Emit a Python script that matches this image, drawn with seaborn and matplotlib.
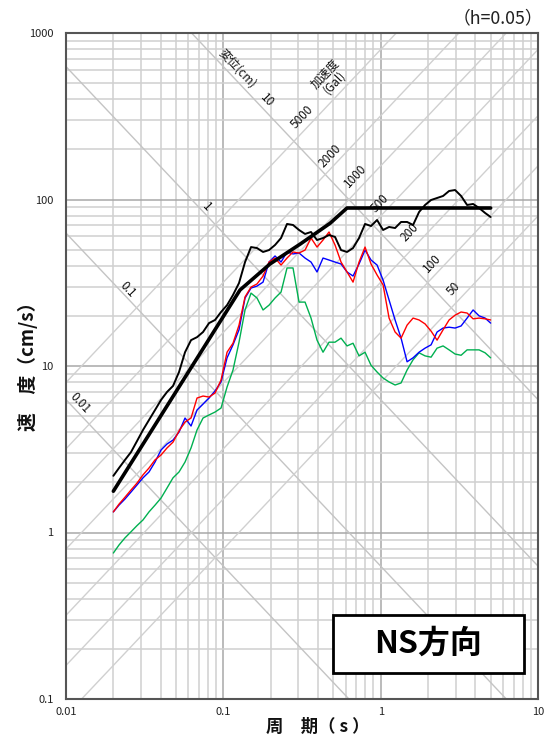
import numpy as np
import pandas as pd
import matplotlib
matplotlib.use("Agg")
import matplotlib.pyplot as plt
import seaborn as sns
from matplotlib.ticker import FixedLocator, FixedFormatter, NullFormatter, LogLocator
from matplotlib.patches import Rectangle

# ---------------- data ----------------
periods = [0.020, 0.02172, 0.02372, 0.02589, 0.02827, 0.03087, 0.03370, 0.03680, 0.04018, 0.04386,
           0.04789, 0.05229, 0.05709, 0.06233, 0.06805, 0.07430, 0.08112, 0.08857, 0.09669, 0.1056,
           0.1152, 0.1258, 0.1374, 0.1500, 0.1637, 0.1788, 0.1952, 0.2131, 0.2327, 0.2540,
           0.2773, 0.3028, 0.3306, 0.3609, 0.3940, 0.4302, 0.4697, 0.5128, 0.5599, 0.6113,
           0.6674, 0.7287, 0.7956, 0.8686, 0.9487, 1.036, 1.131, 1.235, 1.348, 1.472,
           1.607, 1.754, 1.915, 2.091, 2.283, 2.493, 2.722, 2.972, 3.245, 3.543,
           3.868, 4.223, 4.611, 5.0]

vel_black = [2.19, 2.44, 2.73, 3.04, 3.54, 4.13, 4.74, 5.44, 6.25, 6.98,
             7.59, 9.20, 12.1, 14.3, 14.9, 16.0, 18.1, 18.9, 21.1, 23.2,
             26.7, 31.5, 42.1, 51.8, 51.1, 48.4, 49.7, 53.3, 58.7, 71.3,
             70.3, 65.6, 62.1, 63.8, 57.1, 58.7, 61.2, 59.6, 49.7, 48.4,
             51.1, 58.7, 71.3, 69.3, 75.3, 65.6, 68.4, 67.4, 73.3, 73.3,
             70.3, 84.1, 92.7, 99.3, 102.1, 105.0, 112.5, 114.0, 105.0, 92.7,
             94.0, 88.9, 83.0, 78.5]

vel_red = [1.33, 1.48, 1.63, 1.80, 1.98, 2.22, 2.44, 2.73, 2.92, 3.22,
           3.49, 4.07, 4.61, 4.87, 6.42, 6.60, 6.51, 6.88, 8.24, 12.1,
           13.7, 17.6, 26.0, 29.8, 31.1, 34.7, 42.1, 44.5, 40.4, 44.5,
           48.4, 47.7, 49.7, 58.7, 51.8, 57.1, 63.8, 53.3, 42.1, 36.7,
           31.9, 42.1, 51.8, 41.0, 35.2, 30.7, 19.4, 16.0, 14.7, 17.6,
           19.4, 18.9, 17.9, 16.2, 14.3, 16.5, 18.9, 20.2, 21.1, 20.8,
           19.2, 19.4, 19.2, 18.9]

vel_blue = [1.33, 1.46, 1.59, 1.75, 1.93, 2.13, 2.31, 2.65, 3.13, 3.40,
            3.59, 4.01, 4.87, 4.36, 5.44, 5.91, 6.42, 7.08, 8.02, 11.2,
            13.4, 16.5, 25.6, 29.4, 30.2, 31.9, 42.1, 45.8, 42.1, 48.4,
            47.1, 47.7, 44.5, 42.1, 36.7, 44.5, 43.3, 42.1, 41.0, 36.7,
            34.7, 41.0, 49.7, 43.3, 40.4, 32.8, 24.9, 18.9, 14.7, 10.6,
            11.2, 12.1, 12.8, 13.4, 16.0, 16.9, 17.1, 16.9, 17.4, 19.4,
            21.7, 20.0, 19.4, 18.1]

vel_green = [0.753, 0.841, 0.929, 1.01, 1.10, 1.19, 1.33, 1.46, 1.61, 1.85,
             2.13, 2.31, 2.65, 3.22, 4.13, 4.87, 5.08, 5.29, 5.59, 7.48,
             9.46, 13.9, 21.7, 27.4, 25.6, 21.7, 23.2, 25.6, 27.8, 38.8,
             38.8, 24.2, 24.2, 19.4, 14.3, 12.1, 13.9, 13.9, 14.7, 13.2,
             13.7, 11.5, 12.1, 10.1, 9.20, 8.47, 8.02, 7.69, 7.91, 9.46,
             10.9, 12.0, 11.5, 11.3, 12.8, 13.2, 12.5, 11.8, 11.6, 12.5,
             12.5, 12.5, 12.0, 11.2]

design_T = [0.02, 0.1276, 0.198, 0.308, 0.477, 0.611, 5.0]
design_V = [1.77, 28.6, 41.0, 54.0, 72.0, 88.9, 88.9]

disp_values = [0.01, 0.1, 1, 10]                 # cm
disp_labels = ["0.01", "0.1", "1", "10"]
disp_label_T = [0.01227, 0.0248, 0.0788, 0.1896]
disp_label_V = [6.0, 28.6, 90.2, 396]

acc_values = [50, 100, 200, 500, 1000, 2000, 5000]  # Gal
acc_labels = ["50", "100", "200", "500", "1000", "2000", "5000"]
acc_label_T = [2.928, 2.122, 1.538, 0.991, 0.688, 0.477, 0.3165]
acc_label_V = [29.0, 41.6, 63.8, 95.3, 138.4, 182.5, 313]

x_ticks = [0.01, 0.1, 1, 10]
x_ticklabels = ["0.01", "0.1", "1", "10"]
y_ticks = [0.1, 1, 10, 100, 1000]
y_ticklabels = ["0.1", "1", "10", "100", "1000"]

# ---------------- style ----------------
sns.set_theme(style="white")
plt.rcParams['font.family'] = ['Noto Sans CJK JP', 'DejaVu Sans']
plt.rcParams['axes.unicode_minus'] = False

W, H = 544, 740
fig = plt.figure(figsize=(W / 100, H / 100), dpi=100)
ax_l, ax_r, ax_t, ax_b = 66, 538, 33, 699
ax = fig.add_axes([ax_l / W, 1 - ax_b / H, (ax_r - ax_l) / W, (ax_b - ax_t) / H])
ax.set_xscale('log')
ax.set_yscale('log')
ax.set_xlim(0.01, 10)
ax.set_ylim(0.1, 1000)

ax.xaxis.set_major_locator(FixedLocator(x_ticks))
ax.xaxis.set_major_formatter(FixedFormatter(x_ticklabels))
ax.yaxis.set_major_locator(FixedLocator(y_ticks))
ax.yaxis.set_major_formatter(FixedFormatter(y_ticklabels))
ax.xaxis.set_minor_locator(LogLocator(base=10, subs=range(2, 10)))
ax.yaxis.set_minor_locator(LogLocator(base=10, subs=range(2, 10)))
ax.xaxis.set_minor_formatter(NullFormatter())
ax.yaxis.set_minor_formatter(NullFormatter())
ax.tick_params(which='both', length=0)
ax.tick_params(axis='y', pad=9, labelsize=8, labelcolor='#222222')
ax.tick_params(axis='x', pad=6, labelsize=8, labelcolor='#222222')

ax.grid(which='minor', color='#d0d0d0', linewidth=1.1, zorder=0)
ax.grid(which='major', color='#a8a8a8', linewidth=1.1, zorder=0)
ax.set_axisbelow(True)
for s in ax.spines.values():
    s.set_color('#555555')
    s.set_linewidth(1.5)
    s.set_zorder(10)

# ---------------- tripartite diagonals ----------------
Tline = np.array([0.01, 10.0])
for D in disp_values:
    ax.plot(Tline, 2 * np.pi * D / Tline, color='#c4c4c4', lw=1.0, zorder=1)
for A in acc_values:
    ax.plot(Tline, A * Tline / (2 * np.pi), color='#d0d0d0', lw=1.0, zorder=1)

px_per_dec_x = (ax_r - ax_l) / 3
px_per_dec_y = (ax_b - ax_t) / 4
ang = np.degrees(np.arctan(px_per_dec_y / px_per_dec_x))

for t, v, lab in zip(disp_label_T, disp_label_V, disp_labels):
    ax.text(t, v, lab, rotation=-ang, rotation_mode='anchor', ha='center', va='center',
            fontsize=8.5, color='#111111', zorder=3)
for t, v, lab in zip(acc_label_T, acc_label_V, acc_labels):
    ax.text(t, v, lab, rotation=ang, rotation_mode='anchor', ha='center', va='center',
            fontsize=8.5, color='#111111', zorder=3)
ax.text(0.1222, 608, "変位(cm)", rotation=-ang, rotation_mode='anchor', ha='center',
        va='center', fontsize=8.5, color='#111111', zorder=3)
ax.text(0.477, 537, "加速度\n(Gal)", rotation=ang, rotation_mode='anchor', ha='center',
        va='center', fontsize=8.5, color='#111111', zorder=3, linespacing=1.0,
        multialignment='center')

# ---------------- spectra ----------------
df = pd.DataFrame({
    "T": periods * 4,
    "V": vel_green + vel_blue + vel_red + vel_black,
    "series": (["green"] * len(periods) + ["blue"] * len(periods)
               + ["red"] * len(periods) + ["black"] * len(periods)),
})
styles = {"green": ("#00b050", 1.0), "blue": ("#0000ff", 1.0),
          "red": ("#ff0000", 1.0), "black": ("#000000", 1.4)}
for name, (col, lw) in styles.items():
    sub = df[df.series == name]
    sns.lineplot(data=sub, x="T", y="V", color=col, linewidth=lw, sort=False,
                 estimator=None, legend=False, ax=ax, zorder=5)

design_df = pd.DataFrame({"T": design_T, "V": design_V})
sns.lineplot(data=design_df, x="T", y="V", color="#000000", linewidth=2.6, sort=False,
             estimator=None, legend=False, ax=ax, zorder=6)

ax.set_xlabel("")
ax.set_ylabel("")

# ---------------- annotations ----------------
box = Rectangle(((333 - ax_l) / (ax_r - ax_l), (ax_b - 673) / (ax_b - ax_t)),
                (524 - 333) / (ax_r - ax_l), (673 - 615) / (ax_b - ax_t),
                transform=ax.transAxes, facecolor='white', edgecolor='black',
                linewidth=2.0, zorder=8)
ax.add_patch(box)
ax.text(((333 + 524) / 2 - ax_l) / (ax_r - ax_l), (ax_b - 644) / (ax_b - ax_t), "NS方向",
        transform=ax.transAxes, ha='center', va='center', fontsize=23, fontweight='bold',
        color='black', zorder=9)

fig.text(543 / W, 1 - 18 / H, "（h=0.05）", ha='right', va='center', fontsize=12.8, color='#222222')
fig.text(318 / W, 1 - 727 / H, "周　期（ s ）", ha='center', va='center', fontsize=12.5,
         fontweight='bold', color='#111111')
fig.text(28 / W, 1 - 362 / H, "速　度（cm/s）", ha='center', va='center', rotation=90,
         fontsize=13.5, fontweight='bold', color='#111111')

fig.savefig("out.png", dpi=100)
